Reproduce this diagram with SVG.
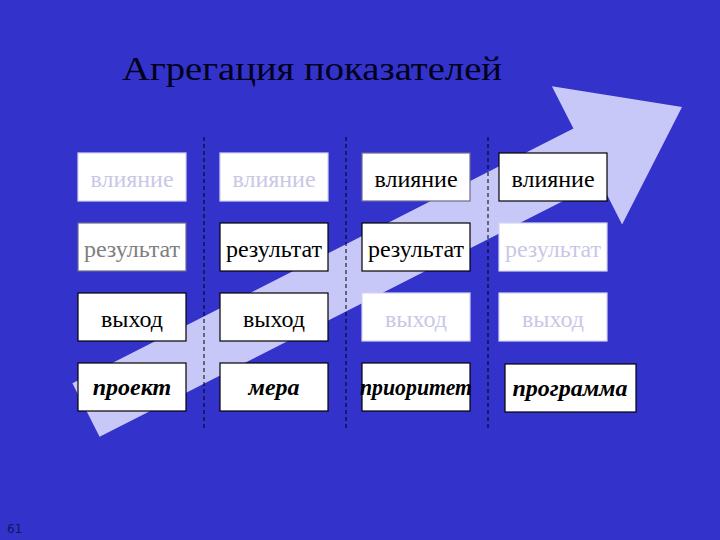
<svg xmlns="http://www.w3.org/2000/svg" width="720" height="540" viewBox="0 0 720 540">
<style>
.bx{fill:#ffffff;stroke-width:1.2}
.dk{stroke:#000000}
.md{stroke:#6a6a90}
.lt{stroke:#d4d4f4}
.t{font-family:"Liberation Serif","DejaVu Serif",serif;font-size:24px;text-anchor:middle}
.tb{font-family:"Liberation Serif","DejaVu Serif",serif;font-size:24px;font-weight:bold;font-style:italic;text-anchor:middle;fill:#000}
.cb{fill:#000}
.cg{fill:#808080}
.cl{fill:#c8c8e6}
.dash{stroke:#000;stroke-width:1;stroke-dasharray:4 3;fill:none}
.ttl{font-family:"Liberation Serif","DejaVu Serif",serif;font-size:33px;fill:#00001a}
</style>
<rect x="0" y="0" width="720" height="540" fill="#3333cc"/>
<text class="ttl" x="122" y="80" textLength="380" lengthAdjust="spacingAndGlyphs">Агрегация показателей</text>
<polygon id="arrow" points="72.4,383.3 573.4,128.6 551.9,86.2 682,107 622.1,224.4 600.6,182 99.6,436.7" fill="#c8c8f8"/>
<g id="connectors">
<line class="dash" x1="204" y1="137" x2="204" y2="428"/>
<line class="dash" x1="346" y1="137" x2="346" y2="428"/>
<line class="dash" x1="488" y1="137" x2="488" y2="428"/>
</g>
<g id="n11"><rect class="bx lt" x="78" y="153" width="108" height="48"/><text class="t cl" x="132" y="187">влияние</text></g>
<g id="n12"><rect class="bx lt" x="220" y="153" width="108" height="48"/><text class="t cl" x="274" y="187">влияние</text></g>
<g id="n13"><rect class="bx md" x="362" y="153" width="108" height="48"/><text class="t cb" x="416" y="187">влияние</text></g>
<g id="n14"><rect class="bx dk" x="499" y="153" width="108" height="48"/><text class="t cb" x="553" y="187">влияние</text></g>
<g id="n21"><rect class="bx md" x="78" y="223" width="108" height="48"/><text class="t cg" x="132" y="257">результат</text></g>
<g id="n22"><rect class="bx dk" x="220" y="223" width="108" height="48"/><text class="t cb" x="274" y="257">результат</text></g>
<g id="n23"><rect class="bx dk" x="362" y="223" width="108" height="48"/><text class="t cb" x="416" y="257">результат</text></g>
<g id="n24"><rect class="bx lt" x="499" y="223" width="108" height="48"/><text class="t cl" x="553" y="257">результат</text></g>
<g id="n31"><rect class="bx dk" x="78" y="293" width="108" height="48"/><text class="t cb" x="132" y="327">выход</text></g>
<g id="n32"><rect class="bx dk" x="220" y="293" width="108" height="48"/><text class="t cb" x="274" y="327">выход</text></g>
<g id="n33"><rect class="bx lt" x="362" y="293" width="108" height="48"/><text class="t cl" x="416" y="327">выход</text></g>
<g id="n34"><rect class="bx lt" x="499" y="293" width="108" height="48"/><text class="t cl" x="553" y="327">выход</text></g>
<g id="n41"><rect class="bx dk" x="78" y="363" width="108" height="48"/><text class="tb" x="132" y="395">проект</text></g>
<g id="n42"><rect class="bx dk" x="220" y="363" width="108" height="48"/><text class="tb" x="274" y="395">мера</text></g>
<g id="n43"><rect class="bx dk" x="362" y="363" width="108" height="48"/><text class="tb" x="416" y="395" textLength="112" lengthAdjust="spacingAndGlyphs">приоритет</text></g>
<g id="n44"><rect class="bx dk" x="505" y="364" width="131" height="48"/><text class="tb" x="570" y="396">программа</text></g>
<text x="7" y="533" font-family="DejaVu Sans,sans-serif" font-size="12" fill="#14145a">61</text>
</svg>
